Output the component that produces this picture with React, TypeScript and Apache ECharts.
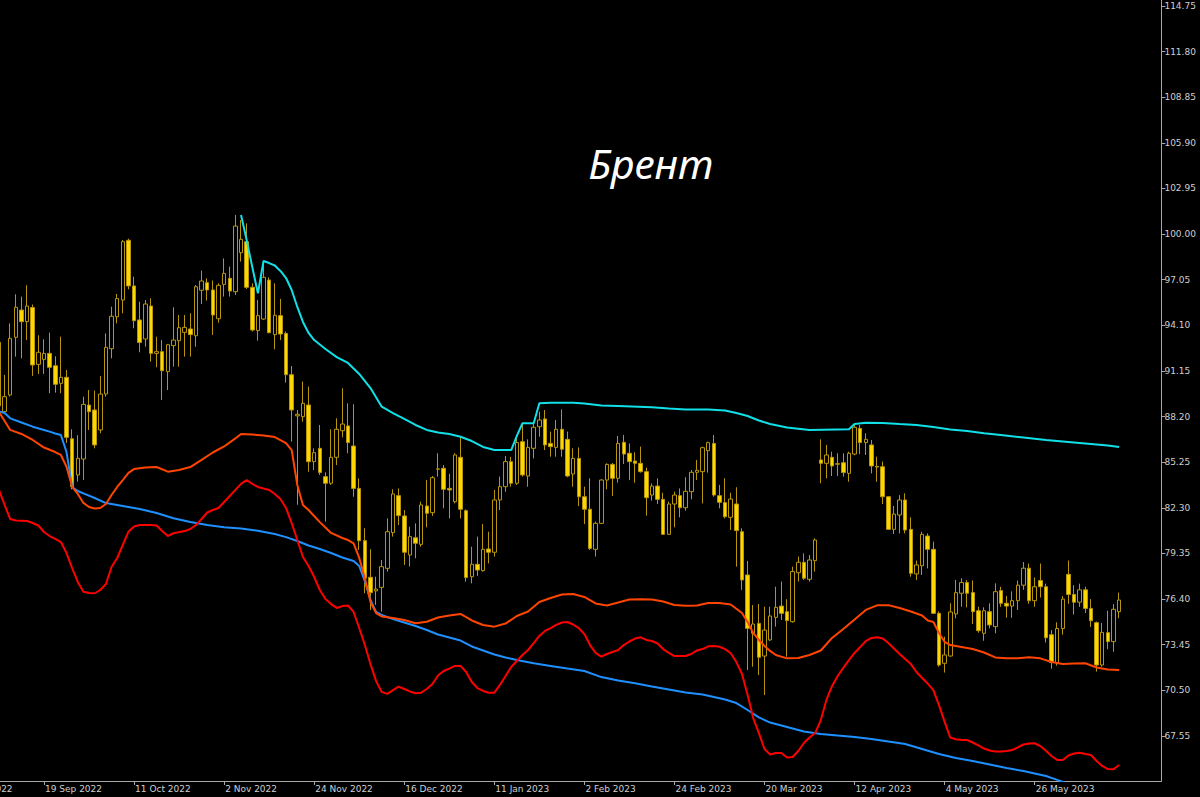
import React, { useEffect, useRef } from "react";
import * as echarts from "echarts";

// ---- categories (trading days) ----
const MONTHS = ["Jan", "Feb", "Mar", "Apr", "May", "Jun", "Jul", "Aug", "Sep", "Oct", "Nov", "Dec"];
const START_DATE = "2022-08-26";
const HOLIDAYS = ["2022-12-26", "2023-01-02", "2023-04-07"];
const N_BARS = 208; // bar index 0 .. 207 (16 Jun 2023)
const LABEL_INDEXES = [0, 16, 32, 48, 64, 80, 96, 112, 128, 144, 160, 176, 192];
const FIRST = 8; // first bar with values (7 Sep 2022)
const VIEW_MIN = 8.1827; // bar index at the left edge of the plot
const VIEW_MAX = 214.51; // bar index at the right edge of the plot

// ---- candles (from index FIRST) ----
const OPEN = [93.0, 88.52, 89.6, 93.33, 95.09, 94.34, 95.25, 91.58, 91.9, 92.29, 91.49, 90.35, 90.74, 86.77, 84.43, 85.46, 88.95, 88.63, 87.34, 89.66, 92.59, 94.66, 95.74, 99.6, 96.65, 94.45, 93.22, 95.35, 92.29, 92.4, 91.11, 92.79, 93.11, 93.65, 93.87, 93.43, 96.37, 96.86, 96.39, 94.53, 96.75, 97.14, 96.28, 98.8, 99.51, 96.56, 93.76, 94.51, 97.03, 93.5, 94.73, 93.58, 90.91, 88.25, 88.2, 88.95, 85.29, 86.15, 84.32, 83.89, 85.57, 87.29, 87.6, 86.3, 83.56, 80.18, 77.81, 76.93, 77.16, 78.39, 80.7, 83.09, 81.78, 79.25, 80.37, 79.94, 82.42, 81.99, 84.8, 84.86, 83.56, 82.7, 85.57, 82.12, 77.85, 78.65, 78.24, 79.64, 79.43, 82.81, 83.67, 85.29, 83.89, 86.58, 84.36, 86.15, 87.55, 88.05, 86.47, 86.21, 87.38, 86.73, 84.49, 85.5, 83.02, 82.21, 79.62, 81.3, 84.1, 85.11, 84.21, 86.54, 85.83, 85.33, 85.18, 84.64, 83.13, 83.71, 82.85, 80.59, 82.55, 83.09, 82.31, 83.35, 84.6, 84.64, 86.0, 86.47, 83.09, 82.64, 81.69, 82.55, 80.76, 77.96, 74.19, 74.83, 72.72, 73.76, 75.22, 75.95, 75.59, 74.94, 78.11, 78.78, 77.68, 78.89, 85.4, 85.18, 85.57, 85.12, 85.22, 84.53, 85.78, 87.44, 86.52, 86.37, 84.98, 84.96, 83.02, 80.91, 81.84, 82.81, 80.91, 78.03, 78.56, 80.48, 79.62, 75.48, 72.25, 72.72, 75.44, 76.78, 77.47, 76.82, 75.65, 74.19, 75.59, 74.62, 76.95, 76.13, 75.95, 76.3, 77.3, 78.4, 76.3, 77.6, 77.2, 74.1, 72.3, 74.5, 78.0, 76.7, 76.2, 77.0, 75.8, 74.88, 72.14, 74.23, 73.65, 75.59];
const HIGH = [93.6, 90.9, 94.23, 96.11, 95.96, 96.69, 95.45, 93.46, 93.2, 93.63, 92.1, 93.37, 91.21, 87.38, 87.0, 89.49, 89.92, 89.88, 90.83, 93.58, 95.31, 96.13, 99.62, 99.7, 97.25, 95.63, 95.74, 95.85, 93.37, 93.15, 92.9, 95.27, 94.77, 94.77, 94.88, 96.71, 97.64, 97.14, 97.0, 96.82, 98.43, 97.9, 101.24, 100.91, 100.7, 96.82, 95.74, 98.22, 97.2, 96.82, 95.81, 93.7, 91.47, 88.63, 90.46, 90.14, 86.15, 87.66, 84.6, 87.38, 88.09, 90.03, 89.06, 89.0, 84.21, 80.98, 79.62, 77.85, 78.93, 81.62, 83.5, 83.56, 82.16, 81.08, 81.3, 82.7, 84.1, 84.36, 85.83, 85.07, 84.5, 85.83, 86.86, 82.2, 79.79, 80.44, 81.26, 80.76, 83.46, 84.32, 85.65, 85.6, 86.8, 87.77, 86.73, 87.81, 88.52, 88.63, 87.23, 87.98, 88.67, 87.23, 86.15, 86.21, 83.67, 84.21, 81.41, 84.15, 85.18, 85.2, 86.95, 87.01, 86.47, 85.89, 86.26, 84.9, 83.88, 84.21, 83.28, 82.7, 83.35, 83.56, 84.28, 84.75, 85.4, 86.26, 86.58, 87.01, 83.78, 84.21, 83.28, 83.63, 80.98, 78.87, 76.02, 76.08, 75.91, 75.91, 77.2, 77.53, 76.39, 78.5, 79.15, 79.36, 79.25, 80.33, 86.73, 86.37, 85.93, 85.83, 85.83, 85.93, 87.66, 87.66, 87.12, 86.69, 85.61, 85.29, 83.07, 82.42, 83.13, 83.24, 81.69, 78.89, 80.76, 80.65, 80.11, 75.6, 73.97, 76.13, 77.64, 77.75, 77.64, 77.6, 75.91, 75.87, 76.13, 77.42, 77.2, 76.6, 76.9, 77.6, 78.8, 78.7, 77.8, 78.7, 77.4, 74.4, 74.9, 76.6, 78.9, 77.3, 77.4, 77.2, 76.4, 74.95, 74.86, 75.65, 76.08, 76.82];
const LOW = [88.5, 88.4, 89.5, 92.08, 91.97, 93.15, 90.83, 90.96, 90.96, 89.71, 89.75, 89.71, 86.5, 83.5, 84.0, 84.1, 87.34, 86.15, 87.12, 89.49, 91.97, 94.23, 94.88, 96.43, 93.91, 92.36, 92.72, 91.75, 91.39, 89.28, 89.92, 91.43, 91.43, 92.08, 92.08, 92.72, 95.48, 95.7, 93.48, 94.28, 95.96, 95.96, 96.06, 98.22, 96.45, 93.7, 93.11, 94.45, 93.58, 92.55, 93.15, 90.4, 86.58, 82.5, 87.87, 84.64, 84.75, 84.43, 81.41, 83.78, 85.07, 86.86, 85.83, 83.02, 79.58, 76.78, 75.7, 76.02, 75.59, 78.18, 80.44, 81.19, 78.61, 78.5, 79.04, 79.79, 81.04, 81.78, 84.32, 82.27, 81.62, 82.59, 81.62, 77.53, 77.42, 77.9, 78.18, 78.71, 79.15, 82.16, 83.35, 83.67, 83.78, 84.32, 83.67, 85.5, 86.9, 86.04, 85.61, 85.61, 85.61, 84.28, 83.67, 82.42, 81.26, 79.58, 79.15, 81.26, 83.5, 83.07, 83.93, 85.14, 84.1, 83.93, 84.58, 81.8, 82.77, 82.55, 80.55, 80.55, 81.04, 81.69, 82.12, 82.85, 84.1, 82.59, 84.58, 83.02, 82.27, 81.62, 80.87, 78.5, 77.0, 71.82, 72.03, 71.49, 70.2, 73.7, 74.62, 75.05, 72.68, 74.88, 77.53, 77.64, 77.53, 78.18, 83.89, 84.21, 84.36, 84.36, 84.32, 83.99, 85.7, 85.78, 85.72, 84.53, 83.99, 82.55, 80.87, 80.61, 80.65, 80.65, 77.85, 77.64, 77.96, 78.39, 75.44, 72.03, 71.65, 72.68, 75.16, 75.91, 75.87, 74.79, 74.23, 73.71, 74.51, 74.19, 75.9, 75.2, 75.2, 75.7, 77.0, 76.1, 75.9, 76.5, 73.6, 71.9, 72.1, 74.1, 76.1, 75.4, 75.9, 75.5, 74.6, 71.71, 72.03, 73.16, 73.0, 75.17];
const CLOSE = [88.9, 89.49, 93.26, 95.27, 94.34, 95.35, 91.54, 92.36, 92.29, 91.39, 90.29, 90.74, 86.86, 83.67, 85.5, 88.99, 88.52, 86.37, 89.66, 92.68, 94.69, 95.83, 99.51, 96.65, 94.4, 93.0, 95.48, 92.29, 92.4, 91.17, 92.85, 93.15, 93.95, 93.97, 93.5, 96.6, 96.97, 96.39, 94.77, 96.69, 97.46, 96.32, 100.52, 99.66, 96.56, 93.8, 94.73, 97.21, 93.63, 94.75, 93.54, 90.91, 88.63, 88.35, 89.06, 85.29, 85.87, 84.58, 83.89, 85.57, 87.38, 87.72, 86.52, 83.56, 80.18, 77.75, 76.82, 77.05, 78.5, 80.76, 83.2, 81.8, 79.43, 80.44, 80.01, 82.49, 81.95, 84.25, 84.82, 83.5, 83.46, 85.72, 82.21, 77.79, 78.65, 78.28, 79.62, 79.43, 82.81, 83.67, 85.29, 83.89, 86.52, 84.43, 86.21, 87.51, 87.98, 86.37, 86.26, 87.38, 86.09, 84.36, 85.5, 83.02, 82.21, 79.68, 81.3, 84.1, 85.11, 84.21, 86.47, 85.78, 85.29, 85.18, 84.64, 82.96, 83.71, 82.85, 80.59, 82.55, 83.13, 82.31, 83.37, 84.6, 84.73, 86.19, 86.52, 83.13, 82.66, 81.73, 82.87, 80.83, 77.64, 74.51, 74.79, 72.64, 74.4, 75.31, 75.87, 75.48, 75.01, 78.18, 78.78, 77.75, 78.93, 80.22, 85.18, 85.72, 85.01, 85.16, 84.58, 85.83, 87.51, 86.52, 86.73, 85.01, 84.94, 83.02, 80.91, 81.9, 82.81, 80.87, 78.07, 78.61, 80.59, 79.62, 75.48, 72.14, 72.79, 75.57, 76.82, 77.47, 76.78, 75.59, 74.36, 75.65, 74.73, 76.88, 76.13, 75.95, 76.3, 77.3, 78.4, 76.3, 77.2, 77.2, 73.9, 72.3, 74.5, 76.4, 76.7, 76.2, 77.0, 75.8, 75.0, 72.14, 74.25, 73.65, 75.74, 76.34];

// ---- indicator lines: [bar index, price] ----
const CYAN_LINE = [[51, 101.24], [52, 99.62], [53, 97.87], [54, 96.17], [55, 98.26], [56, 98.13], [57, 97.97], [58, 97.62], [59, 97.16], [60, 96.39], [61, 95.29], [62, 94.32], [63, 93.61], [64, 93.15], [66, 92.57], [68, 92.05], [70, 91.67], [72, 90.96], [74, 90.05], [76, 88.84], [78, 88.43], [80, 88.05], [82, 87.66], [84, 87.34], [86, 87.17], [88, 87.08], [90, 86.9], [92, 86.62], [94, 86.24], [96, 86.04], [99, 86.04], [100, 86.95], [101, 87.77], [103, 87.77], [104, 89.06], [106, 89.1], [110, 89.1], [112, 89.05], [115, 88.92], [118, 88.89], [124, 88.8], [127, 88.72], [130, 88.66], [134, 88.66], [137, 88.6], [139, 88.43], [141, 88.24], [143, 87.95], [145, 87.72], [148, 87.5], [152, 87.34], [159, 87.38], [160, 87.72], [162, 87.81], [165, 87.79], [168, 87.72], [171, 87.66], [174, 87.53], [177, 87.37], [180, 87.27], [183, 87.12], [186, 87.01], [190, 86.85], [194, 86.69], [198, 86.56], [202, 86.43], [205, 86.33], [207, 86.24]];
const BLUE_LINE = [[8, 88.53], [9, 88.43], [10, 88.09], [12, 87.82], [14, 87.55], [16, 87.34], [17, 87.23], [18, 87.11], [19, 87.01], [20, 85.91], [21, 83.65], [22, 83.39], [23, 83.24], [25, 82.94], [27, 82.61], [30, 82.42], [33, 82.23], [36, 81.97], [39, 81.63], [42, 81.39], [45, 81.19], [48, 81.04], [51, 80.97], [54, 80.82], [57, 80.61], [59, 80.41], [61, 80.16], [63, 79.87], [65, 79.64], [67, 79.38], [69, 79.09], [71, 78.86], [72, 78.54], [73, 77.57], [74, 76.34], [75, 75.57], [76, 75.37], [78, 75.11], [80, 74.89], [82, 74.66], [84, 74.4], [86, 74.11], [88, 73.92], [90, 73.72], [92, 73.34], [94, 73.08], [96, 72.82], [98, 72.63], [100, 72.46], [103, 72.25], [106, 72.08], [109, 71.91], [112, 71.75], [115, 71.36], [118, 71.14], [121, 70.96], [124, 70.75], [127, 70.56], [130, 70.36], [133, 70.23], [135, 70.07], [137, 69.91], [139, 69.68], [141, 69.23], [143, 68.75], [145, 68.42], [147, 68.23], [149, 68.04], [151, 67.84], [154, 67.68], [157, 67.58], [160, 67.49], [163, 67.36], [166, 67.2], [169, 67.03], [172, 66.71], [175, 66.39], [178, 66.13], [181, 65.93], [184, 65.71], [187, 65.48], [190, 65.29], [192, 65.13], [194, 64.96], [196, 64.71], [198, 64.45], [200, 64.25], [204, 63.86], [207, 63.61]];
const ORANGE_LINE = [[8, 88.5], [9, 87.92], [10, 87.34], [12, 87.08], [14, 86.69], [16, 86.2], [18, 85.91], [19, 85.72], [20, 84.96], [21, 83.65], [22, 83.2], [23, 82.62], [24, 82.36], [25, 82.26], [26, 82.29], [27, 82.55], [28, 83.13], [29, 83.65], [30, 84.1], [31, 84.56], [32, 84.81], [34, 84.91], [36, 84.94], [38, 84.64], [40, 84.75], [42, 84.94], [44, 85.4], [46, 85.88], [48, 86.27], [50, 86.79], [51, 87.08], [53, 87.04], [55, 86.98], [57, 86.88], [59, 86.49], [60, 86.04], [61, 83.78], [62, 82.49], [63, 82.16], [65, 81.38], [67, 80.68], [69, 80.35], [70, 80.22], [71, 80.0], [72, 79.06], [73, 77.77], [74, 76.21], [75, 75.5], [76, 75.28], [78, 75.18], [80, 75.05], [82, 74.84], [84, 74.94], [86, 75.21], [88, 75.34], [90, 75.44], [92, 75.02], [94, 74.73], [96, 74.62], [98, 74.82], [100, 75.31], [102, 75.6], [104, 76.21], [106, 76.47], [108, 76.7], [110, 76.73], [112, 76.54], [114, 76.12], [116, 75.99], [118, 76.18], [120, 76.38], [122, 76.39], [124, 76.38], [126, 76.25], [128, 76.02], [130, 75.97], [132, 75.99], [134, 76.15], [136, 76.15], [138, 76.05], [140, 75.5], [141, 74.92], [142, 74.21], [143, 73.76], [144, 73.37], [145, 73.05], [146, 72.79], [148, 72.57], [150, 72.59], [152, 72.79], [154, 73.08], [156, 73.89], [158, 74.47], [160, 75.08], [162, 75.7], [164, 76.0], [166, 76.01], [168, 75.83], [170, 75.6], [172, 75.34], [173, 75.02], [174, 74.92], [175, 74.21], [176, 73.63], [177, 73.43], [179, 73.3], [181, 73.17], [183, 72.95], [185, 72.63], [187, 72.58], [189, 72.57], [191, 72.64], [193, 72.57], [195, 72.33], [197, 72.2], [199, 72.24], [201, 72.25], [203, 71.98], [205, 71.85], [207, 71.82]];
const RED_LINE = [[8, 83.46], [9, 82.49], [10, 81.58], [11, 81.48], [12, 81.47], [13, 81.45], [14, 81.32], [15, 81.16], [16, 80.74], [17, 80.48], [18, 80.29], [19, 80.09], [20, 79.38], [21, 78.41], [22, 77.51], [23, 76.88], [24, 76.8], [25, 76.78], [26, 76.99], [27, 77.38], [28, 78.48], [29, 79.06], [30, 79.9], [31, 80.76], [32, 81.09], [33, 81.19], [35, 81.19], [36, 81.16], [37, 80.8], [38, 80.48], [39, 80.66], [41, 80.8], [42, 80.93], [43, 81.19], [44, 81.58], [45, 82.0], [46, 82.16], [47, 82.29], [48, 82.68], [49, 83.07], [50, 83.46], [51, 83.85], [52, 84.1], [53, 83.85], [54, 83.65], [55, 83.55], [56, 83.46], [57, 83.2], [58, 82.88], [59, 82.29], [60, 81.32], [61, 80.22], [62, 79.12], [63, 78.54], [64, 77.83], [65, 76.99], [66, 76.41], [67, 76.08], [68, 75.83], [69, 75.95], [70, 75.99], [71, 75.57], [72, 74.53], [73, 73.43], [74, 72.2], [75, 71.1], [76, 70.4], [77, 70.27], [78, 70.52], [79, 70.74], [80, 70.59], [81, 70.43], [82, 70.31], [83, 70.35], [84, 70.59], [85, 70.91], [86, 71.46], [87, 71.75], [88, 71.91], [89, 72.08], [90, 72.08], [91, 71.69], [92, 71.04], [93, 70.65], [94, 70.46], [95, 70.35], [96, 70.35], [97, 70.85], [98, 71.43], [99, 72.01], [100, 72.4], [101, 72.79], [102, 73.11], [103, 73.56], [104, 74.02], [105, 74.34], [106, 74.53], [107, 74.73], [108, 74.89], [109, 74.92], [110, 74.76], [111, 74.53], [112, 74.14], [113, 73.43], [114, 72.92], [115, 72.68], [116, 72.85], [117, 72.98], [118, 73.11], [119, 73.43], [120, 73.66], [121, 73.85], [122, 73.93], [123, 73.76], [124, 73.69], [125, 73.53], [126, 73.17], [127, 72.92], [128, 72.72], [130, 72.72], [131, 72.85], [132, 73.08], [133, 73.17], [134, 73.35], [135, 73.37], [136, 73.32], [137, 73.17], [138, 72.9], [139, 72.33], [140, 71.56], [141, 70.2], [142, 68.71], [143, 67.74], [144, 66.71], [145, 66.35], [146, 66.45], [147, 66.45], [148, 66.16], [149, 66.19], [150, 66.58], [151, 67.1], [152, 67.45], [153, 67.74], [154, 68.58], [155, 69.88], [156, 70.78], [157, 71.43], [158, 71.95], [159, 72.46], [160, 72.92], [161, 73.3], [162, 73.69], [163, 73.89], [164, 73.93], [165, 73.85], [166, 73.56], [167, 73.21], [168, 72.85], [169, 72.53], [170, 72.2], [171, 71.69], [172, 71.3], [173, 70.94], [174, 70.52], [175, 69.55], [176, 68.46], [177, 67.45], [178, 67.34], [179, 67.29], [180, 67.29], [181, 67.13], [182, 66.94], [183, 66.74], [184, 66.61], [185, 66.54], [186, 66.55], [187, 66.58], [188, 66.64], [189, 66.81], [190, 67.0], [191, 67.06], [192, 67.08], [193, 66.9], [194, 66.6], [195, 66.26], [196, 66.0], [197, 66.0], [198, 66.29], [199, 66.42], [200, 66.47], [201, 66.39], [202, 66.32], [203, 65.93], [204, 65.61], [205, 65.41], [206, 65.4], [207, 65.67]];

// ---- price axis ----
const PRICE_TICKS = [67.55, 70.5, 73.45, 76.4, 79.35, 82.3, 85.25, 88.2, 91.15, 94.1, 97.05, 100.0, 102.95, 105.9, 108.85, 111.8, 114.75];
const PRICE_MIN = 64.64;
const PRICE_MAX = 115.138;

const TITLE = "Брент";

function buildDates(): string[] {
  const out: string[] = [];
  let t = Date.parse(START_DATE + "T00:00:00Z");
  while (out.length < N_BARS) {
    const d = new Date(t);
    const wd = d.getUTCDay();
    const iso = d.toISOString().slice(0, 10);
    if (wd !== 0 && wd !== 6 && !HOLIDAYS.includes(iso)) {
      out.push(`${d.getUTCDate()} ${MONTHS[d.getUTCMonth()]} ${d.getUTCFullYear()}`);
    }
    t += 86400000;
  }
  return out;
}

const GRID_W = 1161.4;
const GRID_H = 781;

export default function App() {
  const ref = useRef<HTMLDivElement>(null);

  useEffect(() => {
    if (!ref.current) return;
    const chart = echarts.init(ref.current, null, { renderer: "svg" });
    const dates = buildDates();
    const candles = OPEN.map((o, k) => [FIRST + k, o, CLOSE[k], LOW[k], HIGH[k]]);
    const visibleLabels = LABEL_INDEXES.filter((i) => i >= VIEW_MIN);
    const hiddenLabels = LABEL_INDEXES.filter((i) => i < VIEW_MIN);
    const pxPerBar = GRID_W / (VIEW_MAX - VIEW_MIN);
    const axisColor = "#a8a8a8";
    const textColor = "#cfcfcf";
    const labelFont = "9px 'DejaVu Sans', sans-serif";

    const lineSeries = (data: number[][], color: string) => ({
      type: "line",
      data,
      symbol: "none",
      showSymbol: false,
      clip: true,
      z: 3,
      lineStyle: { color, width: 2 },
      emphasis: { disabled: true },
    });

    chart.setOption({
      animation: false,
      backgroundColor: "#000000",
      grid: { left: 0, top: 0, width: GRID_W, height: GRID_H },
      xAxis: {
        type: "value",
        min: VIEW_MIN,
        max: VIEW_MAX,
        axisLine: { show: true, onZero: false, lineStyle: { color: axisColor, width: 1 } },
        axisTick: { show: true, customValues: visibleLabels, length: 4, lineStyle: { color: axisColor } },
        axisLabel: {
          customValues: visibleLabels,
          formatter: (v: number) => dates[Math.round(v)] || "",
          align: "left",
          color: textColor,
          fontFamily: "DejaVu Sans",
          fontSize: 9,
          margin: 3,
          padding: [0, 0, 0, 1],
        },
        splitLine: { show: false },
      },
      yAxis: {
        type: "value",
        position: "right",
        min: PRICE_MIN,
        max: PRICE_MAX,
        axisLine: { show: true, onZero: false, lineStyle: { color: axisColor, width: 1 } },
        axisTick: { show: true, length: 4, customValues: PRICE_TICKS, lineStyle: { color: axisColor } },
        axisLabel: {
          customValues: PRICE_TICKS,
          formatter: (v: number) => v.toFixed(2),
          color: textColor,
          fontFamily: "DejaVu Sans",
          fontSize: 9,
          margin: 3,
        },
        splitLine: { show: false },
      },
      graphic: [
        {
          type: "text",
          x: 651,
          y: 163,
          style: {
            text: TITLE,
            fill: "#ffffff",
            font: "italic 41px 'Noto Sans', 'DejaVu Sans', sans-serif",
            textAlign: "center",
            textVerticalAlign: "middle",
          },
        },
        // labels whose bar lies left of the visible area (cut off by the page edge)
        ...hiddenLabels.map((i) => ({
          type: "text",
          x: (i - VIEW_MIN) * pxPerBar + 1,
          y: GRID_H + 3,
          style: { text: dates[i], fill: textColor, font: labelFont, textAlign: "left", textVerticalAlign: "top" },
        })),
      ],
      series: [
        {
          type: "candlestick",
          data: candles,
          encode: { x: 0, y: [1, 2, 3, 4] },
          barWidth: 4,
          clip: true,
          z: 2,
          itemStyle: {
            color: "#000000",
            color0: "#FFD700",
            borderColor: "#B8960A",
            borderColor0: "#B8960A",
            borderWidth: 1,
          },
          emphasis: { disabled: true },
        },
        lineSeries(CYAN_LINE, "#10E0E8"),
        lineSeries(BLUE_LINE, "#1E90FF"),
        lineSeries(ORANGE_LINE, "#FF4500"),
        lineSeries(RED_LINE, "#FF0000"),
      ],
    });
    return () => chart.dispose();
  }, []);

  return (
    <div
      ref={ref}
      style={{ position: "fixed", left: 0, top: 0, width: 1200, height: 797, background: "#000" }}
    />
  );
}
